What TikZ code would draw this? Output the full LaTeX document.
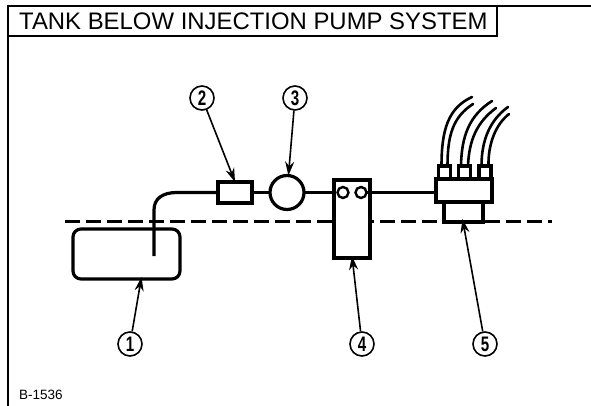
\documentclass[tikz,border=0pt]{standalone}
\usepackage{fontspec}
\setmainfont{Liberation Sans}
\usetikzlibrary{arrows.meta}
\tikzset{
  part/.style={draw=black,fill=white,line width=3.2pt,inner sep=0pt,outer sep=0pt,rectangle},
  thinpart/.style={draw=black,fill=white,line width=2.4pt,inner sep=0pt,outer sep=0pt},
  pipe/.style={draw=black,line width=3.2pt},
  tube/.style={draw=black,line width=2.6pt,line cap=round},
  frameline/.style={draw=black,line width=1.5pt},
  lab/.style={circle,draw=black,fill=white,line width=1.6pt,minimum size=24pt,inner sep=0pt,font=\fontsize{21}{21}\selectfont\bfseries},
  lead/.style={draw=black,line width=1.6pt,-{Stealth[length=14pt,width=9pt]}},
  datum/.style={draw=black,line width=3.2pt,dash pattern=on 15pt off 6pt}
}
\begin{document}
\begin{tikzpicture}[x=1pt,y=-1pt]
\useasboundingbox (0,0) rectangle (591,406);
% frame
\coordinate (fa) at (8,406);
\coordinate (fb) at (8,6);
\coordinate (fc) at (591,6);
\draw[frameline] (fa) -- (fb) -- (fc);
\node[draw=black,line width=1.5pt,minimum width=489pt,minimum height=30pt,inner sep=0pt,outer sep=0pt,anchor=north west] (title) at (8,6) {};
\node[anchor=west,inner sep=0pt,font=\fontsize{23.9}{23.9}\selectfont] (titletext) at (19,21.5) {TANK BELOW INJECTION PUMP SYSTEM};
\node[anchor=west,inner sep=0pt,font=\fontsize{13.5}{13.5}\selectfont] (code) at (19,395) {B-1536};
% datum
\coordinate (da) at (65,221.5);
\coordinate (db) at (552,221.5);
\draw[datum] (da) -- (db);
% tank
\node[part,rounded corners=8pt,minimum width=107pt,minimum height=50pt] (tank) at (126.5,254) {};
\coordinate (pend) at (154,256);
% filter, pump
\node[part,minimum width=34pt,minimum height=21pt] (filter) at (235,192.5) {};
\node[part,circle,minimum size=34pt] (pump) at (287,192.5) {};
% box 4
\node[part,minimum width=36pt,minimum height=78pt] (fourbox) at (352,219) {};
\node[thinpart,circle,minimum size=11pt] (ca) at (343,192.5) {};
\node[thinpart,circle,minimum size=11pt] (cb) at (361,192.5) {};
% box 5
\node[part,minimum width=39pt,minimum height=20pt] (low) at (463.5,212) {};
\node[part,minimum width=56pt,minimum height=23pt] (high) at (464,190.5) {};
\node[part,minimum width=11.5pt,minimum height=13pt] (na) at (444.5,172.5) {};
\node[part,minimum width=12.5pt,minimum height=13pt] (nb) at (464.5,172.5) {};
\node[part,minimum width=12pt,minimum height=13pt] (nc) at (485,172.5) {};
% pipes
\draw[pipe] (pend) -- (154,210) .. controls (154,199) and (162,192.5) .. (177,192.5) -- (filter.west);
\draw[pipe] (filter.east) -- (pump.west);
\draw[pipe] (pump.east) -- (fourbox.west |- pump.east);
\draw[pipe] (cb.east) -- (high.west |- cb.east);
% tubes
\coordinate (t1) at (472,97); \coordinate (t2) at (473,104);
\coordinate (t3) at (492,101); \coordinate (t4) at (496,108);
\coordinate (t5) at (508,107); \coordinate (t6) at (509,114);
\draw[tube] ([xshift=-3pt]na.north) .. controls (441.5,130) and (448,108) .. (t1);
\draw[tube] ([xshift=3pt]na.north) .. controls (447.5,135) and (453,117) .. (t2);
\draw[tube] ([xshift=-3.5pt]nb.north) .. controls (461.5,135) and (470,115) .. (t3);
\draw[tube] ([xshift=3.5pt]nb.north) .. controls (469,140) and (477,122) .. (t4);
\draw[tube] ([xshift=-3.5pt]nc.north) .. controls (481.5,140) and (490,120) .. (t5);
\draw[tube] ([xshift=3.5pt]nc.north) .. controls (488,145) and (495,125) .. (t6);
% labels
\node[lab] (c1) at (130,344) {\scalebox{0.72}[1]{1}};
\node[lab] (c2) at (202,98) {\scalebox{0.72}[1]{2}};
\node[lab] (c3) at (295,98) {\scalebox{0.72}[1]{3}};
\node[lab] (c4) at (362,344) {\scalebox{0.72}[1]{4}};
\node[lab] (c5) at (485,344) {\scalebox{0.72}[1]{5}};
\draw[lead] (c1) -- ([xshift=15pt,yshift=2pt]tank.south);
\draw[lead] (c2) -- (filter.north);
\draw[lead] (c3) -- (pump);
\draw[lead] (c4) -- ([yshift=2pt]fourbox.south);
\draw[lead] (c5) -- ([yshift=3pt,xshift=-1pt]low.south);
\end{tikzpicture}
\end{document}
